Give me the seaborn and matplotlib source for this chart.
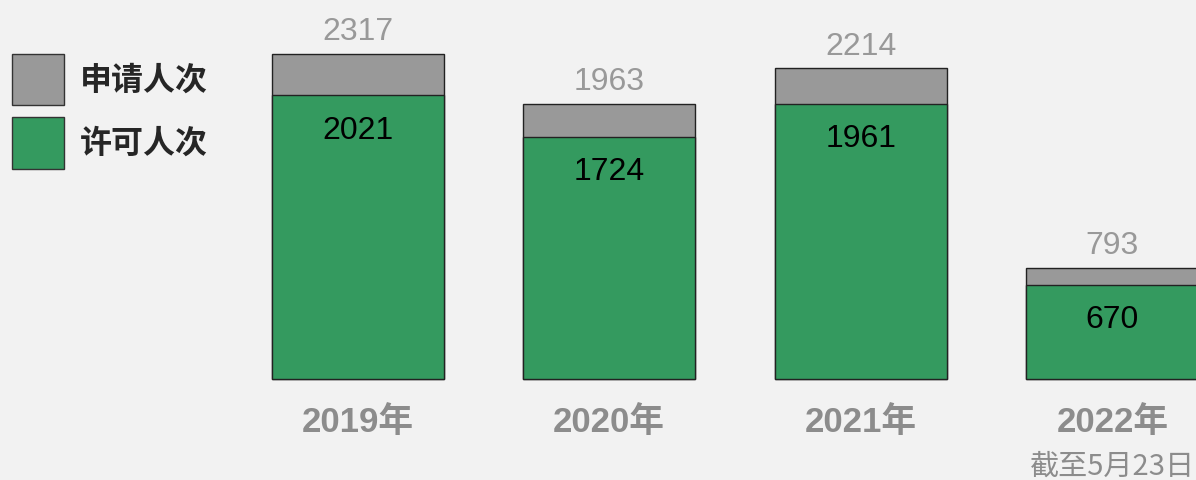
import matplotlib
matplotlib.use("Agg")
import matplotlib.pyplot as plt
import matplotlib.patches as mpatches
import seaborn as sns
import pandas as pd

# data
years = ["2019年", "2020年", "2021年", "2022年"]
applied = [2317, 1963, 2214, 793]      # 申请人次
approved = [2021, 1724, 1961, 670]     # 许可人次
note_2022 = "截至5月23日"

bg = "#f2f2f2"
gray = "#999999"
green = "#349a5f"
label_gray = "#8c8c8c"

sns.set_theme(style="white")
plt.rcParams["font.family"] = ["Liberation Sans", "Noto Sans CJK SC", "DejaVu Sans"]

df = pd.DataFrame({"year": years, "applied": applied, "approved": approved})

fig = plt.figure(figsize=(11.96, 4.8), dpi=100, facecolor=bg)
ax = fig.add_axes([0, 0, 1, 1])
ax.set_facecolor(bg)

bw = 0.684
sns.barplot(data=df, x="year", y="applied", color=gray, width=bw, saturation=1,
            edgecolor="#222222", linewidth=1, ax=ax)
sns.barplot(data=df, x="year", y="approved", color=green, width=bw, saturation=1,
            edgecolor="#222222", linewidth=1, ax=ax)

ax.set_xlim(-1.421, 3.332)
ax.set_ylim(-720, 2701)
ax.axis("off")

for i, (a, p) in enumerate(zip(applied, approved)):
    ax.annotate(str(a), xy=(i, a), xytext=(0, 15.5), textcoords="offset points",
                ha="center", va="center", fontsize=23, color=gray)
    ax.annotate(str(p), xy=(i, p), xytext=(0, -25.5), textcoords="offset points",
                ha="center", va="center", fontsize=23, color="black")
    ax.annotate(years[i], xy=(i, 0), xytext=(0, -31.5), textcoords="offset points",
                ha="center", va="center", fontsize=25, fontweight="bold",
                color=label_gray)

ax.annotate(note_2022, xy=(3, 0), xytext=(0, -63), textcoords="offset points",
            ha="center", va="center", fontsize=21, color=label_gray,
            family=["Noto Sans CJK SC"], annotation_clip=False)

handles = [
    mpatches.Patch(facecolor=gray, edgecolor="#333333", linewidth=1, label="申请人次"),
    mpatches.Patch(facecolor=green, edgecolor="#333333", linewidth=1, label="许可人次"),
]
leg = ax.legend(handles=handles, loc="upper left",
                bbox_to_anchor=(12 / 1196, 1 - 54 / 480), bbox_transform=fig.transFigure,
                frameon=False, borderpad=0, borderaxespad=0,
                handlelength=1.63, handleheight=2.1, handletextpad=0.5,
                labelspacing=0.37,
                prop={"family": ["Noto Sans CJK SC"], "weight": "bold", "size": 23})

fig.savefig("out.png", dpi=100, facecolor=bg)
